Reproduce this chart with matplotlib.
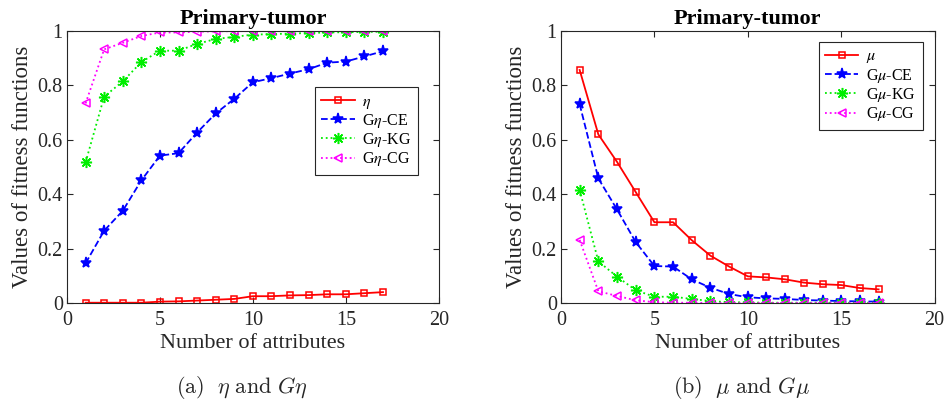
import matplotlib
matplotlib.use("Agg")
import matplotlib.pyplot as plt

plt.rcParams['font.family'] = ['Liberation Serif', 'DejaVu Serif']
plt.rcParams['mathtext.fontset'] = 'stix'

# number of attributes
attrs = list(range(1, 18))

# (a) eta and G-eta
eta = [0.001, 0.001, 0.001, 0.001, 0.005, 0.006, 0.009, 0.012, 0.015,
       0.025, 0.025, 0.028, 0.029, 0.032, 0.032, 0.036, 0.040]
geta_ce = [0.146, 0.266, 0.339, 0.451, 0.542, 0.551, 0.627, 0.697, 0.751,
           0.812, 0.827, 0.844, 0.860, 0.884, 0.888, 0.907, 0.926]
geta_kg = [0.517, 0.759, 0.815, 0.886, 0.928, 0.928, 0.953, 0.971, 0.979,
           0.987, 0.989, 0.991, 0.993, 0.995, 0.996, 0.997, 0.998]
geta_cg = [0.734, 0.933, 0.957, 0.982, 0.995, 0.995, 0.998, 0.999, 1.0,
           1.0, 1.0, 1.0, 1.0, 1.0, 1.0, 1.0, 1.0]

# (b) mu and G-mu
mu = [0.857, 0.620, 0.519, 0.408, 0.297, 0.297, 0.231, 0.174, 0.134,
      0.098, 0.094, 0.087, 0.075, 0.069, 0.066, 0.055, 0.050]
gmu_ce = [0.731, 0.458, 0.344, 0.224, 0.136, 0.134, 0.087, 0.056, 0.033,
          0.021, 0.017, 0.015, 0.011, 0.009, 0.007, 0.006, 0.005]
gmu_kg = [0.416, 0.153, 0.097, 0.047, 0.023, 0.023, 0.015, 0.007, 0.003,
          0.002, 0.001, 0.001, 0.001, 0.001, 0.001, 0.001, 0.001]
gmu_cg = [0.232, 0.043, 0.026, 0.010, 0.003, 0.001, 0.001, 0.0, 0.0,
          0.0, 0.0, 0.0, 0.0, 0.0, 0.0, 0.0, 0.0]

labels_a = [r'$\eta$', r'G$\eta$-CE', r'G$\eta$-KG', r'G$\eta$-CG']
labels_b = [r'$\mu$', r'G$\mu$-CE', r'G$\mu$-KG', r'G$\mu$-CG']

# line styles matching MATLAB defaults used in the paper
styles = [
    dict(color='#ff0000', linestyle='-', marker='s', markersize=5, markerfacecolor='none'),
    dict(color='#0000ff', linestyle='--', marker='*', markersize=8),
    dict(color='#00ee00', linestyle=':', marker=(8, 2, 0), markersize=8),
    dict(color='#ff00ff', linestyle=':', marker='<', markersize=6, markerfacecolor='none'),
]

axis_grey = '#262626'

fig = plt.figure(figsize=(9.46, 4.01), dpi=100)
ax1 = fig.add_axes([0.0708, 0.2444, 0.393, 0.678])
ax2 = fig.add_axes([0.593, 0.2444, 0.395, 0.678])


def draw_panel(ax, series, labels, legend_anchor):
    for values, label, st in zip(series, labels, styles):
        ax.plot(attrs, values, linewidth=1.3, markeredgewidth=1.1,
                label=label, **st)
    ax.set_xlim(0, 20)
    ax.set_ylim(0, 1)
    ax.set_xticks([0, 5, 10, 15, 20])
    ax.set_yticks([0, 0.2, 0.4, 0.6, 0.8, 1])
    ax.set_yticklabels(['0', '0.2', '0.4', '0.6', '0.8', '1'])
    ax.tick_params(direction='in', top=True, right=True, labelsize=14.5,
                   colors=axis_grey, length=4)
    ax.tick_params(axis='x', pad=6)
    ax.tick_params(axis='y', pad=3)
    for sp in ax.spines.values():
        sp.set_color(axis_grey)
        sp.set_linewidth(0.8)
    ax.set_xlabel('Number of attributes', fontsize=16, color=axis_grey, labelpad=3)
    ax.set_ylabel('Values of fitness functions', fontsize=16.5, color=axis_grey, labelpad=3)
    ax.set_title('Primary-tumor', fontsize=16, fontweight='bold', pad=5)
    leg = ax.legend(loc='upper right', bbox_to_anchor=legend_anchor,
                    borderaxespad=0, fontsize=11.5, fancybox=False, framealpha=1,
                    edgecolor=axis_grey, handlelength=2.1, borderpad=0.4,
                    labelspacing=0.08, handletextpad=0.5)
    leg.get_frame().set_linewidth(0.8)


draw_panel(ax1, [eta, geta_ce, geta_kg, geta_cg], labels_a, (0.944, 0.794))
draw_panel(ax2, [mu, gmu_ce, gmu_kg, gmu_cg], labels_b, (0.968, 0.960))

# sub-figure captions
fig.text(0.256, 0.02, r'$\mathrm{(a)}\ \ \eta\ \mathrm{and}\ G\eta$',
         math_fontfamily='cm', fontsize=16, ha='center', color=axis_grey)
fig.text(0.784, 0.02, r'$\mathrm{(b)}\ \ \mu\ \mathrm{and}\ G\mu$',
         math_fontfamily='cm', fontsize=16, ha='center', color=axis_grey)

fig.savefig('out.png', dpi=100)
